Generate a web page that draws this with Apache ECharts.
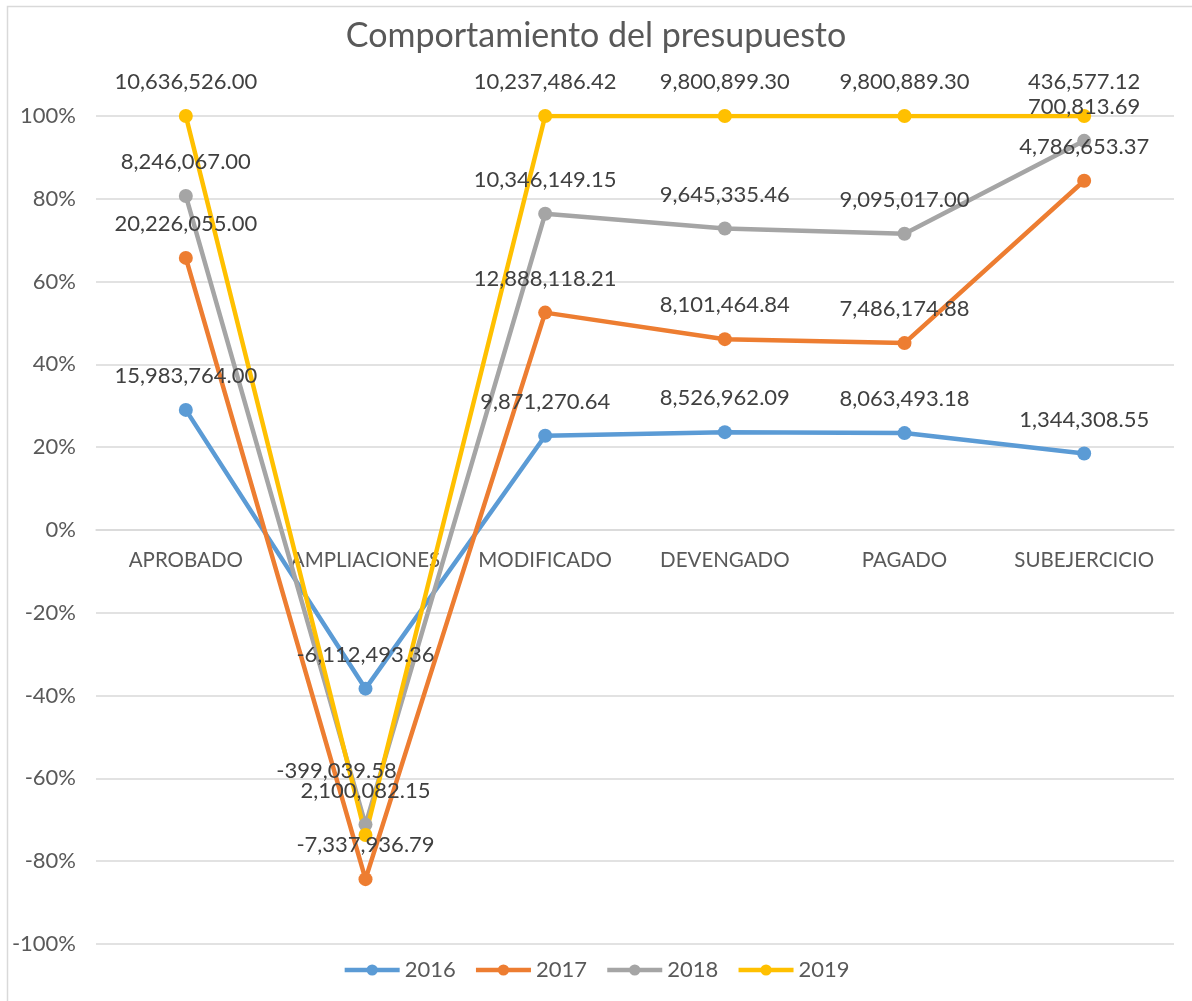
<!DOCTYPE html>
<html>
<head>
<meta charset="utf-8">
<script src="https://cdn.jsdelivr.net/npm/echarts@6/dist/echarts.min.js"></script>
<style>
  html, body { margin: 0; padding: 0; background: #fff; }
  #main { width: 1192px; height: 1001px; }
</style>
</head>
<body>
<div id="main"></div>
<script>
const categories = ['APROBADO', 'AMPLIACIONES', 'MODIFICADO', 'DEVENGADO', 'PAGADO', 'SUBEJERCICIO'];
const years = ['2016', '2017', '2018', '2019'];

const v2016 = [15983764.00, -6112493.36, 9871270.64, 8526962.09, 8063493.18, 1344308.55];
const v2017 = [20226055.00, -7337936.79, 12888118.21, 8101464.84, 7486174.88, 4786653.37];
const v2018 = [8246067.00, 2100082.15, 10346149.15, 9645335.46, 9095017.00, 700813.69];
const v2019 = [10636526.00, -399039.58, 10237486.42, 9800899.30, 9800889.30, 436577.12];

const yTicks = [-1, -0.8, -0.6, -0.4, -0.2, 0, 0.2, 0.4, 0.6, 0.8, 1];

const colors = ['#5B9BD5', '#ED7D31', '#A5A5A5', '#FFC000'];
const font = 'Lato, "Open Sans", sans-serif';

// 100% stacked line, like Excel: running total over sum of absolute values
const raw = [v2016, v2017, v2018, v2019];
const totals = categories.map((c, i) => raw.reduce((s, arr) => s + Math.abs(arr[i]), 0));
const stacked = [];
let run = categories.map(() => 0);
raw.forEach(arr => {
  run = run.map((r, i) => r + arr[i]);
  stacked.push(run.map((r, i) => r / totals[i]));
});

function fmt(n) {
  return n.toLocaleString('en-US', { minimumFractionDigits: 2, maximumFractionDigits: 2 });
}

const gridTop = 116;
const gridBottom = 57;
const chartH = 1001;
// category axis sits on the 0% line, halfway down the plot
const plotH = chartH - gridTop - gridBottom;

const chart = echarts.init(document.getElementById('main'));

const series = years.map((y, k) => ({
  name: y,
  type: 'line',
  data: stacked[k].map((p, i) => {
    const item = { value: p, raw: raw[k][i] };
    // Excel label moved by hand in the original (2019, AMPLIACIONES)
    if (k === 3 && i === 1) item.label = { offset: [-29, -30] };
    return item;
  }),
  symbol: 'circle',
  symbolSize: 14,
  lineStyle: { width: 4.5, color: colors[k] },
  itemStyle: { color: colors[k] },
  label: {
    show: true,
    position: 'top',
    distance: 16,
    fontFamily: font,
    fontSize: 22,
    color: '#404040',
    formatter: p => fmt(p.data.raw)
  },
  emphasis: { disabled: true },
  animation: false
}));

const option = {
  color: colors,
  title: {
    text: 'Comportamiento del presupuesto',
    left: 'center',
    top: 14,
    textStyle: { fontFamily: font, fontSize: 34, fontWeight: 'normal', color: '#595959' }
  },
  legend: {
    data: years,
    bottom: 15,
    left: 'center',
    itemWidth: 55,
    itemHeight: 14,
    itemGap: 18,
    lineStyle: { width: 4.5 },
    textStyle: { fontFamily: font, fontSize: 22, color: '#595959' }
  },
  grid: {
    left: 96,
    right: 18,
    top: gridTop,
    bottom: gridBottom,
    containLabel: false,
    outerBoundsMode: 'none'
  },
  xAxis: {
    type: 'category',
    data: categories,
    boundaryGap: true,
    position: 'bottom',
    offset: -plotH / 2,
    axisLine: { show: true, onZero: false, lineStyle: { color: '#D9D9D9', width: 1.5 } },
    axisTick: { show: false },
    axisLabel: { interval: 0, margin: 20, fontFamily: font, fontSize: 20.5, color: '#595959' }
  },
  yAxis: {
    type: 'value',
    min: yTicks[0],
    max: yTicks[yTicks.length - 1],
    interval: 0.2,
    axisLine: { show: false },
    axisTick: { show: false },
    axisLabel: {
      margin: 20,
      fontFamily: font,
      fontSize: 22,
      color: '#595959',
      formatter: v => Math.round(v * 100) + '%'
    },
    splitLine: { lineStyle: { color: '#D9D9D9', width: 1.5 } }
  },
  graphic: [{
    type: 'rect',
    shape: { x: 7.5, y: 6.5, width: 1200, height: 1000 },
    style: { fill: 'none', stroke: '#D9D9D9', lineWidth: 1.5 },
    silent: true
  }],
  series: series
};

chart.setOption(option);
</script>
</body>
</html>
